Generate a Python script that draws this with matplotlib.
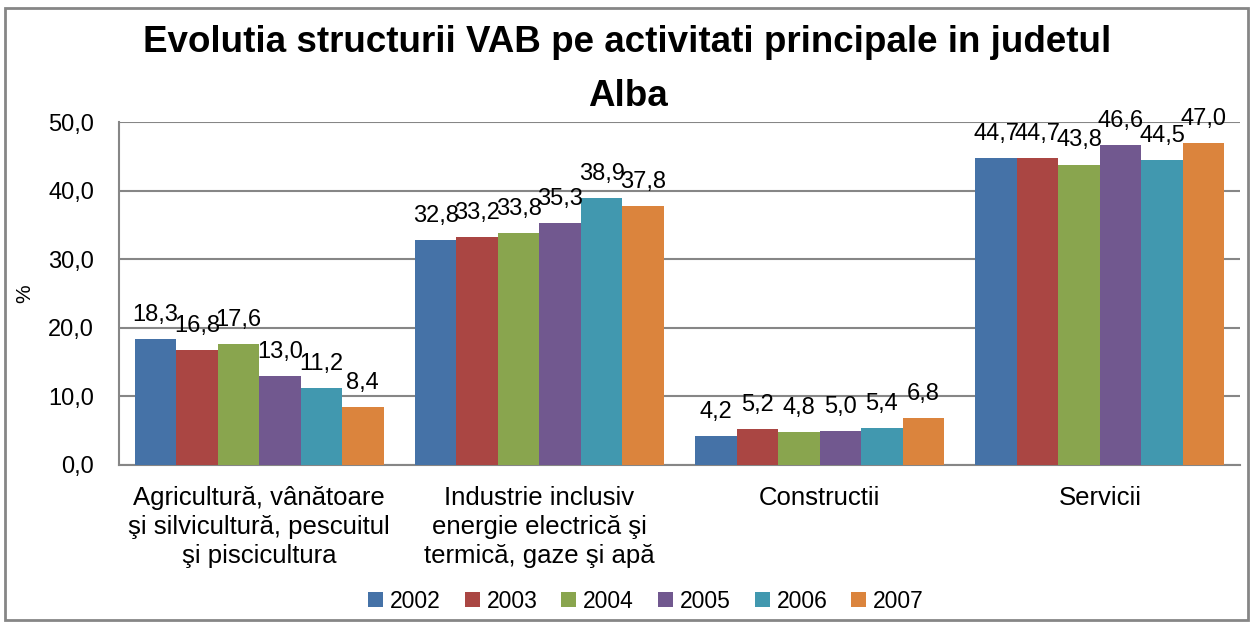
import matplotlib.pyplot as plt
import numpy as np
from matplotlib.patches import Rectangle

categories = [
    "Agricultură, vânătoare\nşi silvicultură, pescuitul\nşi piscicultura",
    "Industrie inclusiv\nenergie electrică şi\ntermică, gaze şi apă",
    "Constructii",
    "Servicii",
]
years = ["2002", "2003", "2004", "2005", "2006", "2007"]
v2002 = [18.3, 32.8, 4.2, 44.7]
v2003 = [16.8, 33.2, 5.2, 44.7]
v2004 = [17.6, 33.8, 4.8, 43.8]
v2005 = [13.0, 35.3, 5.0, 46.6]
v2006 = [11.2, 38.9, 5.4, 44.5]
v2007 = [8.4, 37.8, 6.8, 47.0]
series = [v2002, v2003, v2004, v2005, v2006, v2007]
colors = ["#4572A7", "#AA4643", "#89A54E", "#71588F", "#4198AF", "#DB843D"]

plt.rcParams["font.family"] = ["Liberation Sans", "DejaVu Sans"]

fig = plt.figure(figsize=(12.55, 6.25), dpi=100)
ax = fig.add_axes([119 / 1255, 1 - 465 / 625, 1121 / 1255, 343 / 625])

x = np.arange(len(categories))
w = 0.148
for i, (vals, c, yr) in enumerate(zip(series, colors, years)):
    pos = x - 2.5 * w + i * w
    ax.bar(pos, vals, width=w, color=c, label=yr, zorder=3)
    for p, v in zip(pos, vals):
        ax.annotate(f"{v:.1f}".replace(".", ","), (p, v), xytext=(0, 13),
                    textcoords="offset points", ha="center", va="baseline",
                    fontsize=17, zorder=4)

ax.set_xlim(-0.5, 3.5)
ax.set_ylim(0, 50)
ax.set_yticks(np.arange(0, 51, 10))
ax.set_yticklabels([f"{t:.1f}".replace(".", ",") for t in np.arange(0, 51, 10)], fontsize=17)
ax.yaxis.grid(True, color="#868686", linewidth=1.5, zorder=0)
ax.set_xticks(x)
ax.set_xticklabels(categories, fontsize=18.5, linespacing=1.27)
ax.tick_params(axis="x", length=0, pad=15)
ax.tick_params(axis="y", length=0, pad=18)
for s in ["top", "right"]:
    ax.spines[s].set_visible(False)
for s in ["left", "bottom"]:
    ax.spines[s].set_color("#868686")
    ax.spines[s].set_linewidth(1.5)
ax.set_ylabel("%", fontsize=15, labelpad=10)

fig.text(0.5, 1 - 43 / 625, "Evolutia structurii VAB pe activitati principale in judetul",
         ha="center", va="center", fontsize=26.5, fontweight="bold")
fig.text(0.5, 1 - 97 / 625, "Alba", ha="center", va="center", fontsize=26.5, fontweight="bold")

fig.legend(loc="center", bbox_to_anchor=(646 / 1255, 1 - 601 / 625), ncol=6, frameon=False,
           fontsize=16.5, handlelength=0.65, handleheight=0.65, handletextpad=0.3,
           columnspacing=1.05)

fig.patches.append(Rectangle((5 / 1255, 5 / 625), 1243 / 1255, 612 / 625, transform=fig.transFigure,
                             fill=False, edgecolor="#868686", linewidth=2))

fig.savefig("out.png", dpi=100)
